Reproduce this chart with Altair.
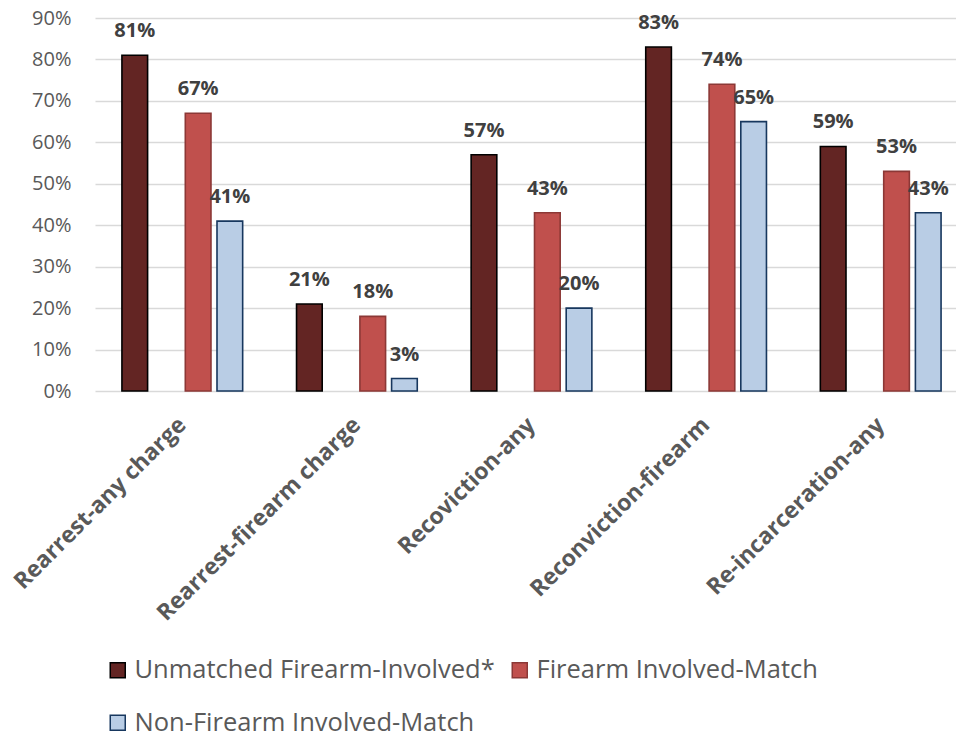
import altair as alt
import pandas as pd

# Outcome categories along the x axis
categories = [
    "Rearrest-any charge",
    "Rearrest-firearm charge",
    "Recoviction-any",
    "Reconviction-firearm",
    "Re-incarceration-any",
]

# Comparison groups
series = [
    "Unmatched Firearm-Involved*",
    "Firearm Involved-Match",
    "Non-Firearm Involved-Match",
]

# Recidivism rates (share) per group, in category order
unmatched_firearm = [0.81, 0.21, 0.57, 0.83, 0.59]
firearm_match = [0.67, 0.18, 0.43, 0.74, 0.53]
non_firearm_match = [0.41, 0.03, 0.20, 0.65, 0.43]

fills = ["#632523", "#C0504D", "#B9CDE5"]
strokes = ["#000000", "#8C3836", "#17375E"]

rows = []
for vals, name in zip([unmatched_firearm, firearm_match, non_firearm_match], series):
    for cat, v in zip(categories, vals):
        rows.append({"outcome": cat, "group": name, "rate": v})
df = pd.DataFrame(rows)

# An empty slot sits between the first bar and the matched pair in each cluster
offset_domain = [series[0], " ", series[1], series[2]]

# The legend grid fills column by column, so list entries to read
# row-wise as: first, second / third
legend_order = [0, 2, 1]
legend_domain = [series[i] for i in legend_order]
legend_fills = [fills[i] for i in legend_order]
legend_strokes = [strokes[i] for i in legend_order]

x_enc = alt.X(
    "outcome:N",
    sort=categories,
    scale=alt.Scale(range=[0, 873], paddingInner=0, paddingOuter=0),
    axis=alt.Axis(
        title=None,
        labelAngle=-45,
        labelAlign="right",
        labelBaseline="middle",
        labelPadding=30,
        labelFontSize=23,
        labelFontWeight="bold",
        labelColor="#595959",
        labelLimit=400,
        labelOverlap=False,
        domain=False,
        ticks=False,
        grid=False,
    ),
)
xoff_enc = alt.XOffset(
    "group:N",
    scale=alt.Scale(domain=offset_domain, paddingInner=0.19, paddingOuter=0.85),
)
y_enc = alt.Y(
    "rate:Q",
    scale=alt.Scale(domain=[0, 0.9], nice=False),
    axis=alt.Axis(
        title=None,
        format=".0%",
        values=[0, 0.1, 0.2, 0.3, 0.4, 0.5, 0.6, 0.7, 0.8, 0.9],
        labelFontSize=20,
        labelColor="#595959",
        labelPadding=24,
        ticks=False,
        tickSize=0,
        domain=False,
        grid=True,
        gridColor="#D9D9D9",
        gridWidth=1.5,
    ),
)

bars = alt.Chart(df).mark_bar(strokeWidth=1.6).encode(
    x=x_enc,
    xOffset=xoff_enc,
    y=y_enc,
    color=alt.Color(
        "group:N",
        scale=alt.Scale(domain=legend_domain, range=legend_fills),
        legend=alt.Legend(
            title=None,
            orient="none",
            legendX=10,
            legendY=639,
            columns=2,
            columnPadding=12,
            rowPadding=26,
            symbolType="square",
            symbolSize=225,
            symbolStrokeWidth=1.5,
            labelFontSize=25.5,
            labelColor="#595959",
            labelOffset=4,
            labelLimit=500,
        ),
    ),
    stroke=alt.Stroke(
        "group:N",
        scale=alt.Scale(domain=legend_domain, range=legend_strokes),
        legend=None,
    ),
)

labels = alt.Chart(df).mark_text(
    dy=-18,
    baseline="alphabetic",
    fontSize=20,
    fontWeight="bold",
    color="#404040",
).encode(
    x=alt.X("outcome:N", sort=categories),
    xOffset=alt.XOffset("group:N"),
    y=alt.Y("rate:Q"),
    text=alt.Text("rate:Q", format=".0%"),
)

chart = (
    alt.layer(bars, labels)
    .properties(
        width=861,
        height=373,
        autosize=alt.AutoSizeParams(type="none"),
        padding={"left": 95, "top": 18, "right": 0, "bottom": 346},
    )
    .configure(font="Open Sans")
    .configure_view(stroke=None)
)

chart.save("out.html", embed_options={"renderer": "svg", "actions": False})
